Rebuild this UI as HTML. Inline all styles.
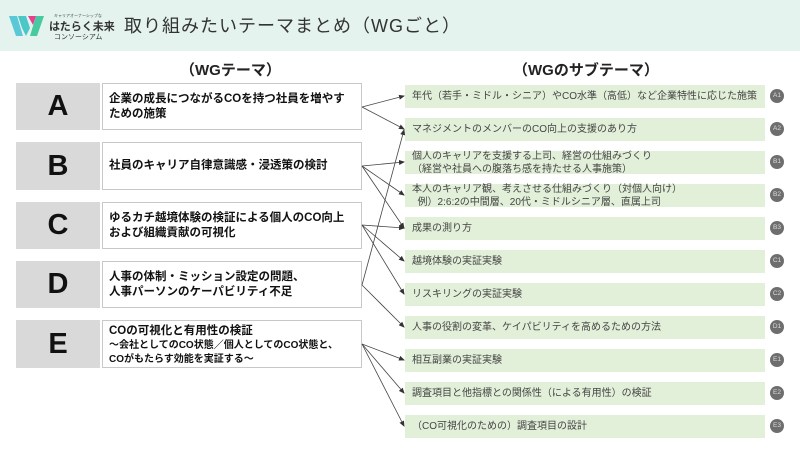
<!DOCTYPE html>
<html><head><meta charset="utf-8"><style>
*{margin:0;padding:0;box-sizing:border-box}
body{width:800px;height:450px;background:#fff;position:relative;overflow:hidden;font-family:"Liberation Sans","Noto Sans CJK JP",sans-serif;color:#222}
.hdr{position:absolute;left:0;top:0;width:800px;height:51px;background:#e4f3ee}
.title{position:absolute;left:124px;top:12px;font-size:18px;color:#333;letter-spacing:1px}
.ch{position:absolute;font-size:15px;font-weight:bold;color:#222}
.let{position:absolute;left:16px;width:84px;background:#d9d9d9;font-size:29px;font-weight:bold;text-align:center;color:#111}
.tb{position:absolute;left:102px;width:260px;border:1px solid #c8c8c8;background:#fff;font-size:11.5px;font-weight:bold;padding-left:6px;line-height:15px;color:#111}
.tb .in{position:absolute;left:6px;top:50%;transform:translateY(-50%)}
.sb{position:absolute;left:405px;width:360px;height:23px;background:#e2efd9;font-size:10px;color:#444;padding-left:7px;display:flex;flex-direction:column;justify-content:center;line-height:13px}
.bd{position:absolute;left:770px;width:14px;height:14px;border-radius:50%;background:#6e6e6e;color:#ddd;font-size:6.5px;text-align:center;line-height:14px}
</style></head><body>
<div class="hdr"></div>
<svg style="position:absolute;left:9px;top:14px" width="36" height="24" viewBox="0 0 36 24">
<polygon points="0,2 8,2 14,22 7,22" fill="#5bc8d8"/>
<polygon points="9,2 17,2 21,14 17,22 13,14" fill="#4cc7c7"/>
<polygon points="19,2 27,2 24,11" fill="#e83e8c"/>
<polygon points="27,2 35,2 28,22 21,22" fill="#48c9a0"/>
</svg>
<div style="position:absolute;left:54px;top:13px;font-size:4px;color:#444">キャリアオーナーシップな</div>
<div style="position:absolute;left:49px;top:18px;font-size:11px;font-weight:bold;color:#333">はたらく未来</div>
<div style="position:absolute;left:54px;top:32px;font-size:7px;color:#333">コンソーシアム</div>
<div class="title">取り組みたいテーマまとめ（WGごと）</div>
<div class="ch" style="left:180px;top:59px">（WGテーマ）</div>
<div class="ch" style="left:513px;top:59px">（WGのサブテーマ）</div>

<div class="let" style="top:83px;height:47px;line-height:47px">A</div>
<div class="tb" style="top:83px;height:47px"><div class="in">企業の成長につながるCOを持つ社員を増やす<br>ための施策</div></div>
<div class="let" style="top:142px;height:48px;line-height:48px">B</div>
<div class="tb" style="top:142px;height:48px"><div class="in">社員のキャリア自律意識感・浸透策の検討</div></div>
<div class="let" style="top:202px;height:47px;line-height:47px">C</div>
<div class="tb" style="top:202px;height:47px"><div class="in">ゆるカチ越境体験の検証による個人のCO向上<br>および組織貢献の可視化</div></div>
<div class="let" style="top:261px;height:47px;line-height:47px">D</div>
<div class="tb" style="top:261px;height:47px"><div class="in">人事の体制・ミッション設定の問題、<br>人事パーソンのケーパビリティ不足</div></div>
<div class="let" style="top:320px;height:48px;line-height:48px">E</div>
<div class="tb" style="top:320px;height:48px"><div style="position:absolute;left:6px;top:3px;line-height:14px">COの可視化と有用性の検証<br><span style="font-size:10px;line-height:12px">～会社としてのCO状態／個人としてのCO状態と、<br>COがもたらす効能を実証する～</span></div></div>

<div class="sb" style="top:85px">年代（若手・ミドル・シニア）やCO水準（高低）など企業特性に応じた施策</div>
<div class="sb" style="top:118px">マネジメントのメンバーのCO向上の支援のあり方</div>
<div class="sb" style="top:151px">個人のキャリアを支援する上司、経営の仕組みづくり<br>（経営や社員への腹落ち感を持たせる人事施策）</div>
<div class="sb" style="top:184px">本人のキャリア観、考えさせる仕組みづくり（対個人向け）<br>&nbsp;&nbsp;例）2:6:2の中間層、20代・ミドルシニア層、直属上司</div>
<div class="sb" style="top:217px">成果の測り方</div>
<div class="sb" style="top:250px">越境体験の実証実験</div>
<div class="sb" style="top:283px">リスキリングの実証実験</div>
<div class="sb" style="top:316px">人事の役割の変革、ケイパビリティを高めるための方法</div>
<div class="sb" style="top:349px">相互副業の実証実験</div>
<div class="sb" style="top:382px">調査項目と他指標との関係性（による有用性）の検証</div>
<div class="sb" style="top:415px">（CO可視化のための）調査項目の設計</div>

<div class="bd" style="top:89px">A1</div>
<div class="bd" style="top:122px">A2</div>
<div class="bd" style="top:155px">B1</div>
<div class="bd" style="top:188px">B2</div>
<div class="bd" style="top:221px">B3</div>
<div class="bd" style="top:254px">C1</div>
<div class="bd" style="top:287px">C2</div>
<div class="bd" style="top:320px">D1</div>
<div class="bd" style="top:353px">E1</div>
<div class="bd" style="top:386px">E2</div>
<div class="bd" style="top:419px">E3</div>

<svg style="position:absolute;left:0;top:0" width="800" height="450">
<defs><marker id="ar" markerWidth="6" markerHeight="6" refX="5" refY="3" orient="auto" markerUnits="userSpaceOnUse"><path d="M0,0.5 L6,3 L0,5.5z" fill="#333"/></marker></defs>
<g stroke="#444" stroke-width="0.8" fill="none" marker-end="url(#ar)">
<line x1="362" y1="107" x2="404" y2="96"/>
<line x1="362" y1="107" x2="404" y2="129"/>
<line x1="362" y1="166" x2="404" y2="162"/>
<line x1="362" y1="166" x2="404" y2="195"/>
<line x1="362" y1="166" x2="404" y2="228"/>
<line x1="362" y1="225" x2="404" y2="228"/>
<line x1="362" y1="225" x2="404" y2="261"/>
<line x1="362" y1="225" x2="404" y2="294"/>
<line x1="362" y1="285" x2="404" y2="130"/>
<line x1="362" y1="285" x2="404" y2="327"/>
<line x1="362" y1="344" x2="404" y2="360"/>
<line x1="362" y1="344" x2="404" y2="393"/>
<line x1="362" y1="344" x2="404" y2="426"/>
</g></svg>
</body></html>
